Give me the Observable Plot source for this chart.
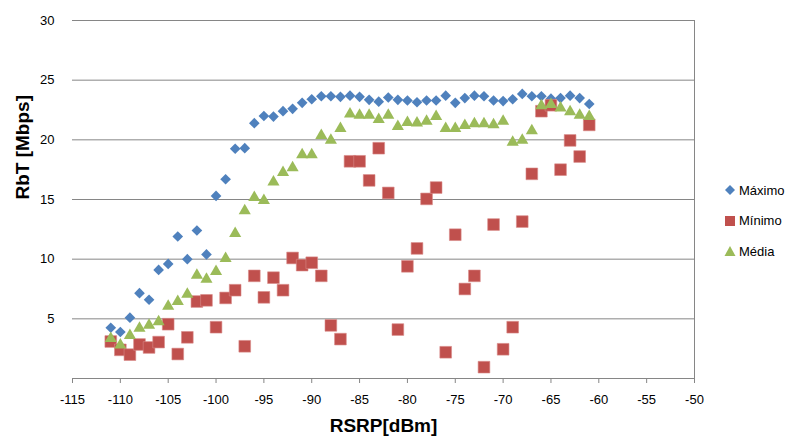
<!DOCTYPE html>
<html>
<head>
<meta charset="utf-8">
<script src="https://cdn.jsdelivr.net/npm/d3@7"></script>
<script src="https://cdn.jsdelivr.net/npm/@observablehq/plot@0.6"></script>
<style>
  html, body { margin: 0; padding: 0; background: #fff; }
  #wrap { position: relative; width: 791px; height: 437px; overflow: hidden; font-family: "Liberation Sans", Arial, sans-serif; }
  #legend { position: absolute; left: 724px; top: 180px; font-size: 13px; color: #000; }
  .li { position: absolute; left: 0; height: 20px; display: flex; align-items: center; white-space: nowrap; }
  .li svg { margin-right: 3px; }
</style>
</head>
<body>
<div id="wrap"></div>
<script>
const rsrp = [-111,-110,-109,-108,-107,-106,-105,-104,-103,-102,-101,-100,-99,-98,-97,-96,-95,-94,-93,-92,-91,-90,-89,-88,-87,-86,-85,-84,-83,-82,-81,-80,-79,-78,-77,-76,-75,-74,-73,-72,-71,-70,-69,-68,-67,-66,-65,-64,-63,-62,-61];
const maximo = [4.25,3.9,5.1,7.15,6.6,9.1,9.6,11.9,10.0,12.4,10.4,15.3,16.7,19.25,19.3,21.4,22.0,21.95,22.4,22.6,23.1,23.4,23.65,23.65,23.6,23.7,23.6,23.35,23.2,23.55,23.35,23.3,23.15,23.3,23.3,23.7,23.1,23.5,23.7,23.65,23.3,23.25,23.4,23.85,23.65,23.65,23.45,23.5,23.7,23.5,23.0];
const minimo = [3.1,2.4,2.0,2.85,2.6,3.05,4.55,2.05,3.45,6.45,6.55,4.3,6.75,7.4,2.7,8.6,6.8,8.45,7.4,10.1,9.5,9.7,8.6,4.45,3.3,18.2,18.2,16.6,19.3,15.55,4.1,9.4,10.9,15.05,16.0,2.2,12.05,7.5,8.6,0.95,12.9,2.45,4.3,13.15,17.15,22.4,22.9,17.5,19.95,18.6,21.25];
const media = [3.5,2.95,3.75,4.35,4.6,4.9,6.2,6.6,7.2,8.8,8.45,9.1,10.2,12.3,14.2,15.3,15.05,16.6,17.4,17.8,18.9,18.9,20.5,20.1,21.1,22.3,22.2,22.2,21.85,22.2,21.25,21.6,21.55,21.7,22.1,21.1,21.1,21.35,21.5,21.5,21.4,21.7,19.95,20.1,20.9,23.0,23.1,22.8,22.5,22.2,22.1];
const xTicks = [-115,-110,-105,-100,-95,-90,-85,-80,-75,-70,-65,-60,-55,-50];
const yTicks = [5,10,15,20,25,30];
const seriesNames = ["Máximo","Mínimo","Média"];
const seriesColors = ["#4F81BD","#C0504D","#9BBB59"];

const rows = (vals) => rsrp.map((x, i) => ({x, y: vals[i]}));

const chart = Plot.plot({
  width: 791,
  height: 437,
  marginLeft: 72,
  marginRight: 97,
  marginTop: 20,
  marginBottom: 59,
  style: {fontFamily: "'Liberation Sans', Arial, sans-serif", fontSize: "13px", color: "#000", background: "#fff"},
  x: {domain: [-115, -50], label: null},
  y: {domain: [0, 30], label: null},
  marks: [
    Plot.gridY(yTicks, {stroke: "#868686", strokeOpacity: 1, strokeWidth: 1}),
    Plot.ruleY([0], {stroke: "#868686", strokeWidth: 1}),
    Plot.ruleX([-50], {stroke: "#868686", strokeWidth: 1, y1: 0, y2: 30}),
    Plot.axisX(xTicks, {tickSize: 5, tickPadding: 11, stroke: "#868686", fill: "#000", fontSize: 13, label: null, tickFormat: (d) => String(d)}),
    Plot.axisY(yTicks, {anchor: "left", tickSize: 0, tickPadding: 18, fill: "#000", fontSize: 13, label: null, tickFormat: (d) => String(d)}),
    Plot.dot(rows(maximo), {x: "x", y: "y", symbol: "diamond2", r: 4.8, fill: seriesColors[0], stroke: "none"}),
    Plot.dot(rows(minimo), {x: "x", y: "y", symbol: "square", r: 6.6, fill: seriesColors[1], stroke: "#d98a88", strokeWidth: 0.6}),
    Plot.dot(rows(media), {x: "x", y: "y", symbol: "triangle", r: 4.5, dy: 1.7, fill: seriesColors[2], stroke: "none"}),
    Plot.text(["RSRP[dBm]"], {frameAnchor: "bottom", dy: 47, fontSize: 19, fontWeight: "bold", fill: "#000", lineAnchor: "middle"}),
    Plot.text(["RbT [Mbps]"], {frameAnchor: "left", dx: -50, rotate: -90, fontSize: 19, fontWeight: "bold", fill: "#000", lineAnchor: "middle"})
  ]
});

const wrap = document.getElementById("wrap");
wrap.appendChild(chart);

// legend
const legend = document.createElement("div");
legend.id = "legend";
const symbolPaths = [
  "M6,1 L11,6 L6,11 L1,6 Z",
  "M1,1 L11,1 L11,11 L1,11 Z",
  "M6,1 L11.5,11 L0.5,11 Z"
];
seriesNames.forEach((name, i) => {
  const item = document.createElement("div");
  item.className = "li";
  item.style.top = (i * 30.5) + "px";
  item.innerHTML = `<svg width="12" height="12" viewBox="0 0 12 12"><path d="${symbolPaths[i]}" fill="${seriesColors[i]}"/></svg><span>${name}</span>`;
  legend.appendChild(item);
});
wrap.appendChild(legend);
</script>
</body>
</html>
